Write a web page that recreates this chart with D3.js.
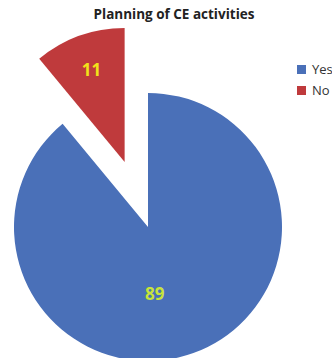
<!DOCTYPE html>
<html>
<head>
<meta charset="utf-8">
<script src="https://cdn.jsdelivr.net/npm/d3@7"></script>
<style>
  body { margin: 0; background: #fff; }
  text { font-family: "Open Sans", "Liberation Sans", sans-serif; }
</style>
</head>
<body>
<svg id="PIE_CHART" width="332" height="358"></svg>
<script>
var categories = ["Yes", "No"];
var values = [89, 11];
var colors = ["#4a70b8", "#bf3a3c"];
var labelColors = ["#c8e43a", "#f2e21a"];
var titleText = "Planning of CE activities";

var width = 332, height = 358;
var cx = 148, cy = 227, radius = 134;
var explode = 69; // how far the "No" slice is pulled out

var svg = d3.select("#PIE_CHART");

var pie = d3.pie().sort(null).value(function(d) { return d; });
var arcs = pie(values);

var arc = d3.arc().innerRadius(0).outerRadius(radius);

var chart = svg.append("g")
  .attr("transform", "translate(" + cx + "," + cy + ")");

function offset(d, i) {
  if (i != 1) return [0, 0];
  var a = (d.startAngle + d.endAngle) / 2;
  return [Math.sin(a) * explode, -Math.cos(a) * explode];
}

var slices = chart.selectAll("g.slice")
  .data(arcs)
  .enter().append("g")
  .attr("class", "slice")
  .attr("transform", function(d, i) {
    var o = offset(d, i);
    return "translate(" + o[0] + "," + o[1] + ")";
  });

slices.append("path")
  .attr("d", arc)
  .attr("fill", function(d, i) { return colors[i]; });

// data labels
var labelRadius = [0.5, 0.73];
function labelAngle(d, i) {
  return i == 0 ? Math.PI - 0.1 : (d.startAngle + d.endAngle) / 2;
}
slices.append("text")
  .attr("x", function(d, i) { return Math.sin(labelAngle(d, i)) * radius * labelRadius[i]; })
  .attr("y", function(d, i) { return -Math.cos(labelAngle(d, i)) * radius * labelRadius[i]; })
  .attr("dy", "0.35em")
  .attr("text-anchor", "middle")
  .attr("font-size", "17px")
  .attr("font-weight", "bold")
  .attr("fill", function(d, i) { return labelColors[i]; })
  .text(function(d) { return d.data; });

// title
svg.append("text")
  .attr("x", 174)
  .attr("y", 19)
  .attr("text-anchor", "middle")
  .attr("font-size", "13.5px")
  .attr("font-weight", "bold")
  .attr("fill", "#222")
  .text(titleText);

// legend
var legend = svg.append("g")
  .attr("transform", "translate(297,65)");

var item = legend.selectAll("g")
  .data(categories)
  .enter().append("g")
  .attr("transform", function(d, i) { return "translate(0," + (i * 21) + ")"; });

item.append("rect")
  .attr("width", 9)
  .attr("height", 9)
  .attr("fill", function(d, i) { return colors[i]; });

item.append("text")
  .attr("x", 15)
  .attr("y", 4.5)
  .attr("dy", "0.35em")
  .attr("font-size", "13px")
  .attr("fill", "#333")
  .text(function(d) { return d; });
</script>
</body>
</html>
